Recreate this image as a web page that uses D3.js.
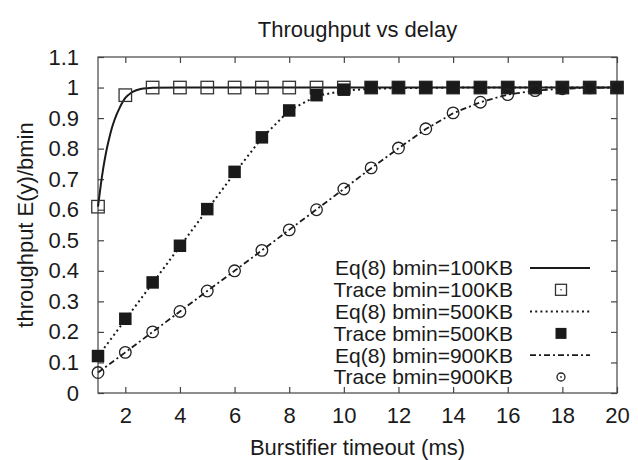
<!DOCTYPE html>
<html><head><meta charset="utf-8">
<script src="https://cdn.jsdelivr.net/npm/d3@7"></script>
<style>
html,body{margin:0;padding:0;background:#fff;}
svg text{font-family:"Liberation Sans",Arial,Helvetica,sans-serif;fill:#1a1a1a;}
</style></head>
<body><svg id="c" width="638" height="460"></svg>
<script>
// ---- data ----
const title = "Throughput vs delay";
const xLabel = "Burstifier timeout (ms)";
const yLabel = "throughput E(y)/bmin";
const xTicks = [2,4,6,8,10,12,14,16,18,20];
const yTicks = [0,0.1,0.2,0.3,0.4,0.5,0.6,0.7,0.8,0.9,1,1.1];
const traceX = [1,2,3,4,5,6,7,8,9,10,11,12,13,14,15,16,17,18,19,20];
// Eq(8) bmin=100KB curve
const eq100X = [1,1.1,1.2,1.3,1.4,1.5,1.6,1.8,2,2.2,2.4,2.6,2.8,3,4,5,6,7,8,9,10,11,12,13,14,15,16,17,18,19,20];
const eq100Y = [0.61,0.68,0.74,0.79,0.83,0.865,0.893,0.935,0.966,0.982,0.991,0.996,0.998,0.999,1,1,1,1,1,1,1,1,1,1,1,1,1,1,1,1,1];
const trace100 = [0.61,0.975,1,1,1,1,1,1,1,1,1,1,1,1,1,1,1,1,1,1];
const eq500 = [0.12,0.24,0.36,0.48,0.60,0.72,0.835,0.925,0.972,0.99,0.996,0.998,0.999,1,1,1,1,1,1,1];
const trace500 = [0.121,0.243,0.362,0.482,0.602,0.724,0.837,0.925,0.975,0.993,1,1,1,1,1,1,1,1,1,1];
const eq900 = [0.067,0.133,0.2,0.267,0.334,0.4,0.467,0.534,0.601,0.668,0.736,0.801,0.864,0.916,0.952,0.977,0.99,0.996,0.999,1];
const trace900 = [0.067,0.133,0.2,0.267,0.334,0.4,0.467,0.534,0.6,0.668,0.737,0.802,0.865,0.917,0.952,0.977,0.99,0.996,0.999,1];
const legendLabels = ["Eq(8) bmin=100KB","Trace bmin=100KB","Eq(8) bmin=500KB","Trace bmin=500KB","Eq(8) bmin=900KB","Trace bmin=900KB"];

// ---- layout ----
const L=98,R=617,T=57,B=393;
const ink="#1a1a1a", axisCol="#444";
const fs=22, lfs=21;
const svg=d3.select("#c");
const x=d3.scaleLinear().domain([1,20]).range([L,R]);
const y=d3.scaleLinear().domain([0,1.1]).range([B,T]);

// frame
svg.append("rect").attr("x",L).attr("y",T).attr("width",R-L).attr("height",B-T)
  .attr("fill","none").attr("stroke",axisCol).attr("stroke-width",1.2);

// axes with inner ticks
const tl=6;
const bx=svg.append("g").attr("transform",`translate(0,${B})`)
  .call(d3.axisBottom(x).tickValues(xTicks).tickSizeInner(-tl).tickSizeOuter(0).tickPadding(14).tickFormat(d3.format("d")));
const tx=svg.append("g").attr("transform",`translate(0,${T})`)
  .call(d3.axisTop(x).tickValues(xTicks).tickSizeInner(-tl).tickSizeOuter(0).tickFormat(""));
const ly=svg.append("g").attr("transform",`translate(${L},0)`)
  .call(d3.axisLeft(y).tickValues(yTicks).tickSizeInner(-tl).tickSizeOuter(0).tickPadding(19).tickFormat(d=>d3.format("")(+d.toFixed(1))));
const ry=svg.append("g").attr("transform",`translate(${R},0)`)
  .call(d3.axisRight(y).tickValues(yTicks).tickSizeInner(-tl).tickSizeOuter(0).tickFormat(""));
[bx,tx,ly,ry].forEach(g=>{
  g.select(".domain").remove();
  g.selectAll(".tick line").attr("stroke",axisCol).attr("stroke-width",1.2);
  g.selectAll(".tick text").attr("font-size",fs).attr("font-family","Liberation Sans, Arial, sans-serif").attr("fill",ink);
});

// titles
svg.append("text").attr("x",(L+R)/2).attr("y",37).attr("text-anchor","middle").attr("font-size",fs).text(title);
svg.append("text").attr("x",(L+R)/2).attr("y",455).attr("text-anchor","middle").attr("font-size",fs).text(xLabel);
svg.append("text").attr("transform",`translate(33,${(T+B)/2}) rotate(-90)`).attr("text-anchor","middle").attr("font-size",fs).text(yLabel);

// lines
const line=d3.line().x(d=>x(d[0])).y(d=>y(d[1]));
const styles=[
  {dash:null,w:2},
  {dash:"2,3.2",w:2},
  {dash:"6,3,2,3",w:1.8}
];
const sqOpen=(g,cx,cy,s)=>g.append("rect").attr("x",cx-s/2).attr("y",cy-s/2).attr("width",s).attr("height",s)
  .attr("fill","#fff").attr("fill-opacity",0).attr("stroke","#333").attr("stroke-width",1.3);
const sqFill=(g,cx,cy,s)=>g.append("rect").attr("x",cx-s/2).attr("y",cy-s/2).attr("width",s).attr("height",s)
  .attr("fill","#1a1a1a");
const circ=(g,cx,cy,r)=>g.append("circle").attr("cx",cx).attr("cy",cy).attr("r",r)
  .attr("fill","none").attr("stroke","#222").attr("stroke-width",1.3);

const plot=svg.append("g");
// series 1: eq 100
plot.append("path").datum(eq100X.map((v,i)=>[v,eq100Y[i]])).attr("d",line.curve(d3.curveMonotoneX))
  .attr("fill","none").attr("stroke",ink).attr("stroke-width",styles[0].w);
traceX.forEach((v,i)=>sqOpen(plot,x(v),y(trace100[i]),12.5));
// series 500
plot.append("path").datum(traceX.map((v,i)=>[v,eq500[i]])).attr("d",line.curve(d3.curveLinear))
  .attr("fill","none").attr("stroke",ink).attr("stroke-width",styles[1].w).attr("stroke-dasharray",styles[1].dash);
traceX.forEach((v,i)=>sqFill(plot,x(v),y(trace500[i]),12.5));
// series 900
plot.append("path").datum(traceX.map((v,i)=>[v,eq900[i]])).attr("d",line.curve(d3.curveLinear))
  .attr("fill","none").attr("stroke",ink).attr("stroke-width",styles[2].w).attr("stroke-dasharray",styles[2].dash);
traceX.forEach((v,i)=>circ(plot,x(v),y(trace900[i]),5.8));

// legend
const lg=svg.append("g");
const rowY=i=>268+i*21.8;
legendLabels.forEach((t,i)=>{
  lg.append("text").attr("x",513).attr("y",rowY(i)).attr("dy","0.35em").attr("text-anchor","end").attr("font-size",lfs).text(t);
  const cy=rowY(i);
  if(i%2===0){
    const st=styles[i/2];
    const p=lg.append("line").attr("x1",530).attr("x2",590).attr("y1",cy).attr("y2",cy)
      .attr("stroke",ink).attr("stroke-width",st.w);
    if(st.dash) p.attr("stroke-dasharray",st.dash);
  } else if(i===1){ sqOpen(lg,561,cy,11); lg.append("circle").attr("cx",561).attr("cy",cy).attr("r",0.8).attr("fill","#333"); }
  else if(i===3){ sqFill(lg,561,cy,11); }
  else { circ(lg,561,cy,4); lg.append("circle").attr("cx",561).attr("cy",cy).attr("r",0.9).attr("fill","#333"); }
});
</script></body></html>
